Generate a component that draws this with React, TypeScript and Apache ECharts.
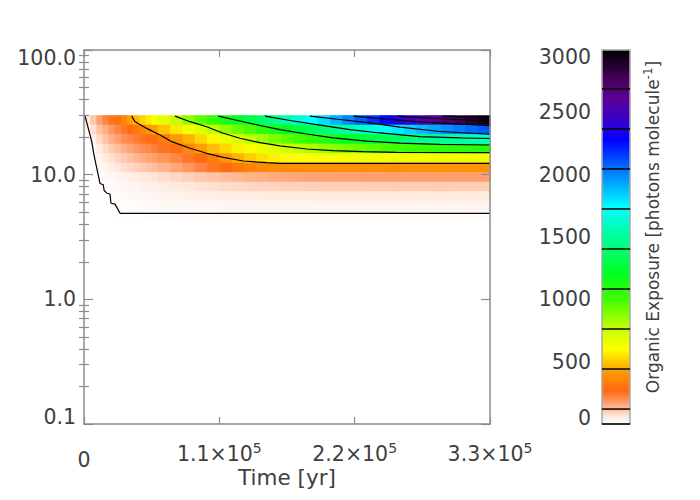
import React, { useEffect, useRef } from "react";
import * as echarts from "echarts";

// ---------- data ----------
// left edges of the time bins [yr]; the last bin ends at TIME_END
const TIME_STARTS = [
  0, 5000, 10000, 15000, 20000, 25000, 30000, 35000, 40000, 45000, 50000, 55000,
  60000, 70000, 80000, 90000, 100000, 110000, 120000, 130000, 140000, 150000,
  160000, 170000, 180000, 190000, 200000, 210000, 220000, 230000, 240000, 250000,
  260000, 270000, 280000, 290000, 300000, 310000, 320000,
];
const TIME_END = 330000;

// heights of the row centres (top row first)
const HEIGHTS = [27.48, 23.05, 19.34, 16.22, 13.61, 11.42, 9.58, 8.04, 6.74, 5.66, 4.75];

// organic exposure per row, one value per time bin
const ROW_01 = [50, 110, 170, 215, 250, 290, 350, 420, 475, 520, 565, 610, 680, 770, 860, 950, 1040, 1130, 1215, 1300, 1385, 1470, 1555, 1640, 1725, 1815, 1905, 1995, 2085, 2175, 2265, 2355, 2445, 2535, 2620, 2710, 2790, 2870, 2950];
const ROW_02 = [20, 70, 120, 150, 185, 215, 245, 275, 310, 350, 390, 430, 490, 560, 630, 700, 780, 850, 920, 990, 1060, 1130, 1200, 1270, 1340, 1410, 1480, 1540, 1600, 1660, 1720, 1780, 1830, 1880, 1930, 1980, 2020, 2060, 2100];
const ROW_03 = [5, 40, 80, 115, 145, 170, 195, 215, 235, 250, 265, 285, 330, 400, 460, 530, 590, 650, 710, 770, 830, 890, 950, 1000, 1050, 1100, 1150, 1200, 1245, 1290, 1330, 1370, 1410, 1445, 1480, 1510, 1540, 1570, 1600];
const ROW_04 = [2, 20, 50, 80, 105, 125, 145, 165, 180, 195, 210, 225, 250, 280, 350, 420, 480, 530, 580, 620, 660, 700, 740, 775, 810, 845, 875, 905, 930, 955, 980, 1000, 1020, 1035, 1050, 1065, 1075, 1085, 1095];
const ROW_05 = [0, 10, 30, 50, 70, 90, 105, 120, 135, 150, 160, 172, 190, 215, 245, 275, 330, 400, 460, 510, 550, 575, 595, 605, 612, 618, 622, 625, 628, 630, 632, 634, 635, 636, 637, 638, 639, 640, 640];
const ROW_06 = [0, 3, 15, 30, 45, 60, 72, 85, 95, 105, 115, 125, 140, 160, 185, 215, 245, 275, 310, 340, 360, 370, 375, 378, 380, 381, 382, 382, 383, 383, 384, 384, 385, 385, 385, 386, 386, 386, 386];
const ROW_07 = [0, 0, 5, 12, 20, 28, 35, 42, 50, 56, 62, 68, 76, 86, 96, 106, 115, 124, 132, 140, 146, 152, 157, 161, 164, 166, 167, 168, 169, 170, 170, 170, 170, 170, 170, 170, 170, 170, 170];
const ROW_08 = [0, 0, 2, 6, 10, 15, 20, 25, 30, 34, 38, 42, 48, 55, 62, 68, 74, 79, 83, 87, 90, 92, 94, 95, 96, 97, 98, 98, 99, 99, 100, 100, 100, 100, 100, 100, 100, 100, 100];
const ROW_09 = [0, 0, 0, 3, 6, 9, 12, 15, 18, 21, 23, 25, 28, 32, 36, 39, 42, 45, 47, 49, 50, 51, 52, 53, 53, 54, 54, 55, 55, 55, 55, 55, 55, 55, 55, 55, 55, 55, 55];
const ROW_10 = [0, 0, 0, 0, 3, 5, 7, 9, 11, 12, 13, 14, 16, 18, 20, 21, 22, 23, 24, 25, 26, 26, 27, 27, 27, 28, 28, 28, 28, 28, 28, 28, 28, 28, 28, 28, 28, 28, 28];
const ROW_11 = [0, 0, 0, 0, 0, 2, 3, 4, 4, 5, 5, 6, 6, 7, 7, 8, 8, 8, 9, 9, 9, 9, 10, 10, 10, 10, 10, 10, 10, 10, 10, 10, 10, 10, 10, 10, 10, 10, 10];
const ROWS = [ROW_01, ROW_02, ROW_03, ROW_04, ROW_05, ROW_06, ROW_07, ROW_08, ROW_09, ROW_10, ROW_11];

// contour lines [time, height]
const CONTOUR_OUTER = [[0, 30], [800, 29.7], [3500, 23.5], [6300, 18.4], [8100, 14.4], [9800, 12.0], [11600, 9.9], [13000, 8.5], [15700, 8.3], [16300, 7.5], [18500, 7.1], [21100, 7.0], [21900, 5.9], [25200, 5.8], [29300, 4.9], [330000, 4.9]];
const CONTOUR_441 = [[38800, 29.5], [41500, 26.6], [51000, 23.5], [61800, 20.8], [71300, 18.4], [86200, 16.3], [99700, 14.84], [113200, 13.78], [129500, 12.87], [148500, 12.47], [159300, 12.33], [330000, 12.33]];
const CONTOUR_762 = [[74000, 29.5], [86200, 26.6], [99700, 24.25], [113200, 21.5], [126800, 19.6], [143000, 18.05], [159300, 17.0], [181000, 16.07], [202600, 15.57], [227000, 15.28], [254200, 15.1], [330000, 15.0]];
const CONTOUR_1083 = [[109200, 29.5], [126800, 26.95], [143000, 24.8], [159300, 23.0], [181000, 21.2], [202600, 19.7], [229800, 18.6], [256800, 17.9], [289400, 17.5], [330000, 17.3]];
const CONTOUR_1404 = [[147100, 29.5], [167400, 27.2], [191800, 25.0], [216200, 23.0], [240600, 21.6], [273100, 20.2], [305600, 19.7], [330000, 19.5]];
const CONTOUR_1725 = [[183700, 29.5], [208100, 27.7], [232500, 26.0], [256800, 24.1], [289400, 22.2], [330000, 21.1]];
const CONTOUR_2046 = [[218900, 29.5], [248700, 27.7], [281200, 26.2], [330000, 24.7]];
const CONTOUR_2367 = [[254200, 29.5], [289400, 28.1], [330000, 26.95]];
const CONTOUR_2688 = [[292000, 29.5], [330000, 28.7]];
const CONTOURS = [CONTOUR_OUTER, CONTOUR_441, CONTOUR_762, CONTOUR_1083, CONTOUR_1404, CONTOUR_1725, CONTOUR_2046, CONTOUR_2367, CONTOUR_2688];

// contour levels marked on the colour bar
const LEVELS = [0, 120, 441, 762, 1083, 1404, 1725, 2046, 2367, 2688];

// axes
const X_MIN = 0;
const X_MAX = 330000;
const X_STEP = 110000;
const Y_MIN = 0.1;
const Y_MAX = 100;
const Y_MINOR = [0.2, 0.3, 0.4, 0.5, 0.6, 0.7, 0.8, 0.9, 2, 3, 4, 5, 6, 7, 8, 9, 20, 30, 40, 50, 60, 70, 80, 90];
const CBAR_MIN = 0;
const CBAR_MAX = 3000;
const CBAR_STEP = 500;

// ---------- styles ----------
const FONT = "DejaVu Sans";
const TEXT = "#404040";
const AXIS = "#8c8c8c";

const COLOR_STOPS: [number, string][] = [
  [0, "#ffffff"], [60, "#ffe8dc"], [120, "#ffc0a0"], [200, "#ff8c50"], [270, "#ff6a10"], [430, "#ffa000"],
  [600, "#ffff00"], [760, "#c8ff00"], [1000, "#40ff00"], [1200, "#00ff20"], [1400, "#00ff70"],
  [1740, "#00ffff"], [2050, "#0070ff"], [2280, "#0000ff"], [2400, "#3000d8"], [2600, "#5a0098"],
  [2750, "#4a0060"], [3000, "#000000"],
];

function hexRgb(h: string) {
  return [parseInt(h.slice(1, 3), 16), parseInt(h.slice(3, 5), 16), parseInt(h.slice(5, 7), 16)];
}
function colorOf(v: number) {
  const x = Math.max(CBAR_MIN, Math.min(CBAR_MAX, v));
  for (let i = 1; i < COLOR_STOPS.length; i++) {
    const [v1, c1] = COLOR_STOPS[i];
    const [v0, c0] = COLOR_STOPS[i - 1];
    if (x <= v1) {
      const f = (x - v0) / (v1 - v0);
      const a = hexRgb(c0), b = hexRgb(c1);
      const r = a.map((q, k) => Math.round(q + (b[k] - q) * f));
      return `rgb(${r[0]},${r[1]},${r[2]})`;
    }
  }
  return COLOR_STOPS[COLOR_STOPS.length - 1][1];
}

function rowTop(r: number) {
  if (r === 0) return HEIGHTS[0] * Math.sqrt(HEIGHTS[0] / HEIGHTS[1]);
  return Math.sqrt(HEIGHTS[r - 1] * HEIGHTS[r]);
}
function rowBottom(r: number) {
  const n = HEIGHTS.length;
  if (r === n - 1) return HEIGHTS[n - 1] * Math.sqrt(HEIGHTS[n - 1] / HEIGHTS[n - 2]);
  return Math.sqrt(HEIGHTS[r] * HEIGHTS[r + 1]);
}
function binEnd(c: number) {
  return c + 1 < TIME_STARTS.length ? TIME_STARTS[c + 1] : TIME_END;
}

const baseText = { fontFamily: FONT, fontSize: 20.5, color: TEXT };

export default function App() {
  const ref = useRef<HTMLDivElement>(null);

  useEffect(() => {
    document.body.style.margin = "0";
    if (!ref.current) return;
    const chart = echarts.init(ref.current, undefined, { renderer: "svg" });

    const cellData: number[][] = [];
    ROWS.forEach((row, r) =>
      row.forEach((v, c) => {
        cellData.push([(TIME_STARTS[c] + binEnd(c)) / 2, HEIGHTS[r], v, c, r]);
      })
    );

    const gradStops = COLOR_STOPS.map(([v, c]) => ({ offset: (v - CBAR_MIN) / (CBAR_MAX - CBAR_MIN), color: c }));

    const logAxisBase = {
      gridIndex: 0,
      type: "log",
      logBase: 10,
      min: Y_MIN,
      max: Y_MAX,
      splitLine: { show: false },
      z: 5,
    };

    const option: any = {
      animation: false,
      backgroundColor: "#ffffff",
      grid: [
        { left: 84, top: 50, width: 406, height: 374 },
        { left: 602, top: 50, width: 28, height: 374 },
      ],
      xAxis: [
        {
          gridIndex: 0,
          type: "value",
          position: "bottom",
          min: X_MIN,
          max: X_MAX,
          interval: X_STEP,
          z: 5,
          axisLine: { show: true, onZero: false, lineStyle: { color: AXIS, width: 1.5 } },
          axisTick: { show: true, inside: true, length: 7, lineStyle: { color: AXIS, width: 1.2 } },
          splitLine: { show: false },
          axisLabel: {
            margin: 17,
            ...baseText,
            showMinLabel: true,
            showMaxLabel: true,
            formatter: (v: number) =>
              v === 0 ? "{z|0}" : `{n|${(v / 1e5).toFixed(1)}×10}{s|5}`,
            rich: {
              z: { ...baseText, padding: [8, 0, 0, 0] },
              n: { ...baseText },
              s: { ...baseText, fontSize: 14, padding: [0, 0, 12, 0] },
            },
          },
          name: "Time [yr]",
          nameLocation: "middle",
          nameGap: 42,
          nameMoveOverlap: false,
          nameTextStyle: { fontFamily: FONT, fontSize: 21.5, color: TEXT },
        },
        {
          gridIndex: 0,
          type: "value",
          position: "top",
          min: X_MIN,
          max: X_MAX,
          interval: X_STEP,
          z: 5,
          axisLine: { show: true, onZero: false, lineStyle: { color: AXIS, width: 1.5 } },
          axisTick: { show: true, inside: true, length: 7, lineStyle: { color: AXIS, width: 1.2 } },
          axisLabel: { show: false },
          splitLine: { show: false },
        },
        { gridIndex: 1, type: "value", min: 0, max: 1, show: false },
      ],
      yAxis: [
        {
          ...logAxisBase,
          position: "left",
          axisLine: { show: true, onZero: false, lineStyle: { color: AXIS, width: 1.5 } },
          axisTick: { show: true, inside: true, length: 9, lineStyle: { color: AXIS, width: 1.2 } },
          axisLabel: {
            margin: 8,
            ...baseText,
            showMinLabel: true,
            showMaxLabel: true,
            formatter: (v: number) => {
              const s = v.toFixed(1);
              if (v > 50) return `{t|${s}}`;
              if (v < 0.5) return `{b|${s}}`;
              return `{n|${s}}`;
            },
            rich: {
              t: { ...baseText, padding: [16, 0, 0, 0] },
              b: { ...baseText, padding: [0, 0, 14, 0] },
              n: { ...baseText },
            },
          },
        },
        {
          ...logAxisBase,
          position: "left",
          axisLine: { show: false },
          axisTick: { show: true, inside: true, length: 5, customValues: Y_MINOR, lineStyle: { color: AXIS, width: 1.2 } },
          axisLabel: { show: false },
        },
        {
          ...logAxisBase,
          position: "right",
          axisLine: { show: true, onZero: false, lineStyle: { color: AXIS, width: 1.5 } },
          axisTick: { show: true, inside: true, length: 9, lineStyle: { color: AXIS, width: 1.2 } },
          axisLabel: { show: false },
        },
        {
          ...logAxisBase,
          position: "right",
          axisLine: { show: false },
          axisTick: { show: true, inside: true, length: 5, customValues: Y_MINOR, lineStyle: { color: AXIS, width: 1.2 } },
          axisLabel: { show: false },
        },
        {
          gridIndex: 1,
          type: "value",
          position: "left",
          min: CBAR_MIN,
          max: CBAR_MAX,
          interval: CBAR_STEP,
          axisLine: { show: false },
          axisTick: { show: false },
          splitLine: { show: false },
          axisLabel: {
            margin: 11,
            ...baseText,
            showMinLabel: true,
            showMaxLabel: true,
            formatter: (v: number) => {
              if (v === CBAR_MAX) return `{t|${v}}`;
              if (v === CBAR_MIN) return `{b|${v}}`;
              return `{n|${v}}`;
            },
            rich: {
              t: { ...baseText, padding: [14, 0, 0, 0] },
              b: { ...baseText, padding: [0, 0, 12, 0] },
              n: { ...baseText },
            },
          },
        },
        {
          gridIndex: 1,
          type: "value",
          position: "right",
          min: CBAR_MIN,
          max: CBAR_MAX,
          axisLine: { show: false },
          axisTick: { show: false },
          axisLabel: { show: false },
          splitLine: { show: false },
          name: "Organic Exposure [photons molecule{s|-1}]",
          nameLocation: "middle",
          nameRotate: 90,
          nameGap: 12,
          nameMoveOverlap: false,
          nameTextStyle: {
            fontFamily: FONT,
            fontSize: 17,
            color: TEXT,
            padding: [0, 0, 0, 20],
            rich: {
              s: { fontFamily: FONT, fontSize: 12, color: TEXT, padding: [0, 0, 9, 0] },
            },
          },
        },
      ],
      series: [
        {
          type: "custom",
          xAxisIndex: 0,
          yAxisIndex: 0,
          silent: true,
          data: cellData,
          encode: { x: 0, y: 1 },
          renderItem: (_p: any, api: any) => {
            const v = api.value(2);
            if (!(v > 0)) return null;
            const c = api.value(3);
            const r = api.value(4);
            const p0 = api.coord([TIME_STARTS[c], rowTop(r)]);
            const p1 = api.coord([binEnd(c), rowBottom(r)]);
            return {
              type: "rect",
              shape: { x: p0[0], y: p0[1], width: p1[0] - p0[0] + 0.6, height: p1[1] - p0[1] + 0.6 },
              style: { fill: colorOf(v) },
            };
          },
        },
        ...CONTOURS.map((d) => ({
          type: "line",
          xAxisIndex: 0,
          yAxisIndex: 0,
          data: d,
          symbol: "none",
          silent: true,
          lineStyle: { color: "#000000", width: 1.2 },
        })),
        {
          type: "custom",
          xAxisIndex: 2,
          yAxisIndex: 4,
          silent: true,
          data: [[0, CBAR_MIN]],
          renderItem: (_p: any, api: any) => {
            const p0 = api.coord([0, CBAR_MAX]);
            const p1 = api.coord([1, CBAR_MIN]);
            return {
              type: "rect",
              shape: { x: p0[0], y: p0[1], width: p1[0] - p0[0], height: p1[1] - p0[1] },
              style: {
                fill: new echarts.graphic.LinearGradient(0, 1, 0, 0, gradStops),
                stroke: "#a8a8a8",
                lineWidth: 1.5,
              },
            };
          },
        },
        {
          type: "custom",
          xAxisIndex: 2,
          yAxisIndex: 4,
          silent: true,
          data: LEVELS.map((l) => [0, l]),
          renderItem: (_p: any, api: any) => {
            const l = api.value(1);
            const a = api.coord([0, l]);
            const b = api.coord([1, l]);
            return {
              type: "line",
              shape: { x1: a[0], y1: a[1], x2: b[0], y2: b[1] },
              style: { stroke: "#000000", lineWidth: 1.5 },
            };
          },
        },
      ],
    };

    chart.setOption(option);
    return () => chart.dispose();
  }, []);

  return <div ref={ref} style={{ width: 700, height: 500 }} />;
}
